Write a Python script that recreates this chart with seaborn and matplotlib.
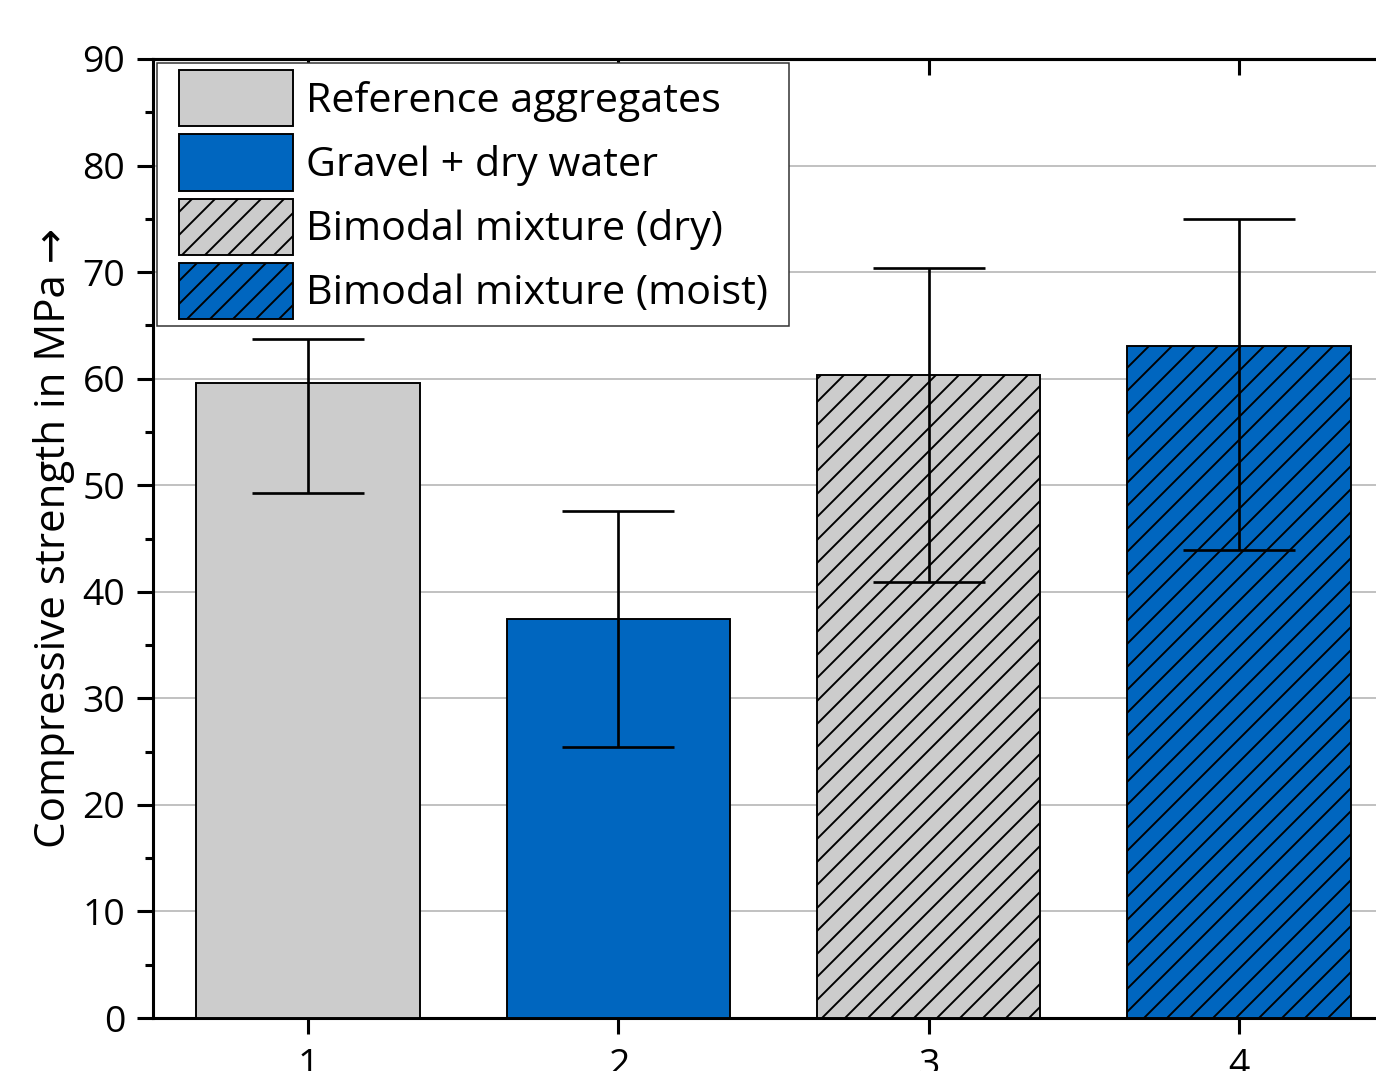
import matplotlib
matplotlib.use("Agg")
import matplotlib.pyplot as plt
from matplotlib.patches import Patch, Rectangle
from matplotlib.legend_handler import HandlerPatch
from matplotlib.ticker import MultipleLocator
import numpy as np
import pandas as pd
import seaborn as sns

# Compressive strength per aggregate mixture (MPa): mean, upper and lower error bounds
groups = ["1", "2", "3", "4"]
series_names = ["Reference aggregates", "Gravel + dry water",
                "Bimodal mixture (dry)", "Bimodal mixture (moist)"]
strength = [59.6, 37.4, 60.3, 63.1]
upper = [63.7, 47.6, 70.4, 75.0]
lower = [49.3, 25.4, 40.9, 43.9]
bar_colors = ["#CCCCCC", "#0066BF", "#CCCCCC", "#0066BF"]
bar_hatches = ["", "", "//", "//"]
y_ticks = [0, 10, 20, 30, 40, 50, 60, 70, 80, 90]

DPI = 138
sns.set_style("white")
plt.rcParams["font.family"] = ["Open Sans", "DejaVu Sans"]
plt.rcParams["text.color"] = "black"
plt.rcParams["axes.labelcolor"] = "black"
plt.rcParams["xtick.color"] = "black"
plt.rcParams["ytick.color"] = "black"
plt.rcParams["hatch.linewidth"] = 1.0
plt.rcParams["hatch.color"] = "black"

fig = plt.figure(figsize=(1376 / DPI, 1071 / DPI), dpi=DPI)
ax = fig.add_axes([153 / 1376, 53 / 1071, 1241 / 1376, 959 / 1071])

df = pd.DataFrame({"group": groups, "strength": strength, "series": series_names})
sns.barplot(data=df, x="group", y="strength", hue="series", palette=bar_colors,
            saturation=1, width=0.72, dodge=False, edgecolor="black",
            linewidth=1.0, legend=False, ax=ax, zorder=3)
for patch, h in zip(ax.patches, bar_hatches):
    patch.set_hatch(h)

# asymmetric error bars
x_pos = np.arange(len(groups))
err = [np.array(strength) - np.array(lower), np.array(upper) - np.array(strength)]
ax.errorbar(x_pos, strength, yerr=err, fmt="none", ecolor="black",
            elinewidth=1.4, capsize=29, capthick=1.4, zorder=4)

ax.set_xlim(-0.5, 3.5)
ax.set_ylim(0, 90)
ax.set_yticks(y_ticks)
ax.yaxis.set_minor_locator(MultipleLocator(5))
ax.grid(axis="y", which="major", color="#B0B0B0", linewidth=0.8, zorder=0)
ax.set_axisbelow(True)

for side in ["left", "bottom", "top"]:
    ax.spines[side].set_linewidth(1.6)
    ax.spines[side].set_color("black")
ax.spines["right"].set_visible(False)

ax.tick_params(axis="y", which="major", direction="out", length=8.5, width=1.6,
               labelsize=19.5, pad=6, left=True)
ax.tick_params(axis="y", which="minor", direction="out", length=4, width=1.6, left=True)
ax.tick_params(axis="x", which="major", direction="out", length=8.5, width=1.6,
               labelsize=19.5, pad=7, bottom=True)

top = ax.secondary_xaxis("top")
top.set_xticks(x_pos)
top.tick_params(direction="in", length=8.5, width=1.6, labeltop=False)
top.spines["top"].set_linewidth(1.6)

ax.set_xlabel("")
ax.set_ylabel("Compressive strength in MPa \u2192", fontsize=22, labelpad=4)

# legend swatches: fixed-width rectangles placed at the right of the handle box
SWATCH_W = 59.0


def swatch(legend, orig_handle, xdescent, ydescent, width, height, fontsize):
    return Rectangle((-xdescent + width - SWATCH_W, -ydescent), SWATCH_W, height)


handles = [Patch(facecolor=c, edgecolor="black", hatch=h, linewidth=1.0)
           for c, h in zip(bar_colors, bar_hatches)]
leg = fig.legend(handles, series_names, loc="upper left",
                 bbox_to_anchor=(157 / 1376, 1 - 63 / 1071, 632 / 1376, 0),
                 bbox_transform=fig.transFigure, borderaxespad=0, mode="expand",
                 fontsize=21.5, handlelength=3.12, handleheight=1.73,
                 labelspacing=0.19, handletextpad=0.32, borderpad=0.17,
                 handler_map={Patch: HandlerPatch(patch_func=swatch)},
                 fancybox=False, framealpha=1, edgecolor="#333333")
leg.get_frame().set_linewidth(0.8)

fig.savefig("out.png", dpi=DPI)
